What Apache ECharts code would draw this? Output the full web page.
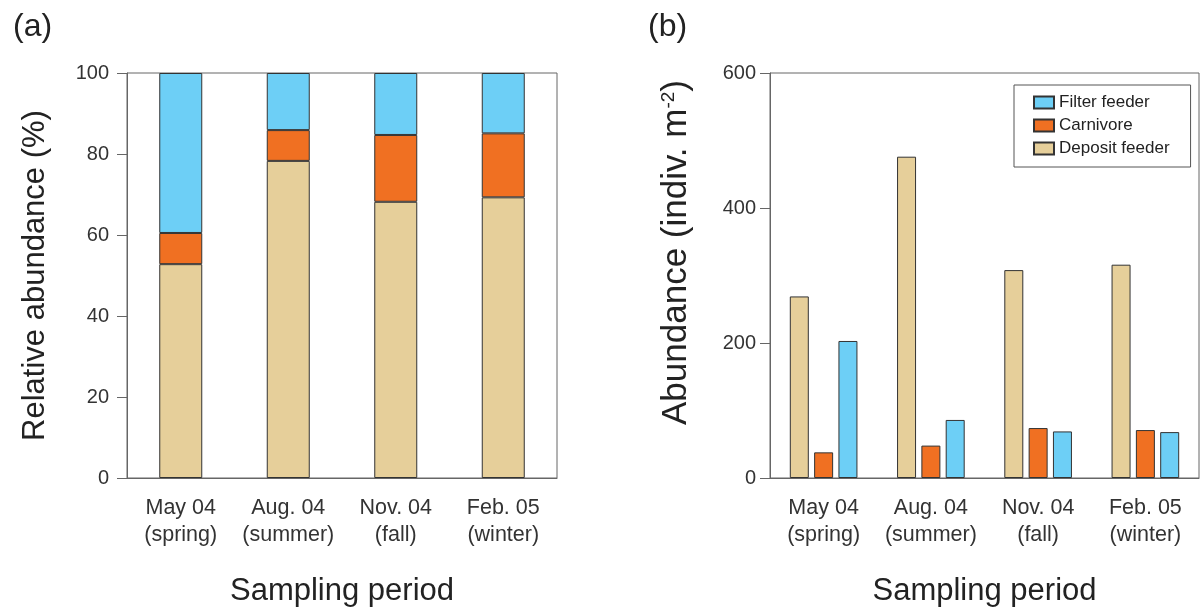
<!DOCTYPE html>
<html>
<head>
<meta charset="utf-8">
<script src="https://cdn.jsdelivr.net/npm/echarts@6/dist/echarts.min.js"></script>
<style>
html,body{margin:0;padding:0;background:#fff;}
#chart{width:1203px;height:612px;}
</style>
</head>
<body>
<div id="chart"></div>
<script>
// ---- data ----
const periods = ['May 04', 'Aug. 04', 'Nov. 04', 'Feb. 05'];
const seasons = ['spring', 'summer', 'fall', 'winter'];
const seriesNames = ['Deposit feeder', 'Carnivore', 'Filter feeder'];
const legendOrder = ['Filter feeder', 'Carnivore', 'Deposit feeder'];
// (a) relative abundance (%)
const relDeposit = [52.8, 78.3, 68.2, 69.3];
const relCarnivore = [7.7, 7.6, 16.5, 15.8];
const relFilter = [39.5, 14.1, 15.3, 14.9];
// (b) abundance (indiv. m-2)
const absDeposit = [269, 476, 308, 316];
const absCarnivore = [38, 48, 74, 71];
const absFilter = [203, 86, 69, 68];
const relTicks = [0, 20, 40, 60, 80, 100];
const absTicks = [0, 200, 400, 600];

const colors = {'Deposit feeder': '#E6CF9A', 'Carnivore': '#F07022', 'Filter feeder': '#6DCFF6'};
const FONT = '"Liberation Sans", Arial, sans-serif';
const categories = periods.map((p, i) => p + '\n(' + seasons[i] + ')');

const chart = echarts.init(document.getElementById('chart'), null, {renderer: 'canvas'});

function xAxis(gridIndex) {
  return {
    type: 'category', gridIndex, data: categories,
    axisLine: {lineStyle: {color: '#666', width: 1}},
    axisTick: {alignWithLabel: true, length: 9, lineStyle: {color: '#666'}},
    axisLabel: {interval: 0, color: '#333', fontSize: 21.5, fontFamily: FONT, lineHeight: 27, margin: 17},
    name: 'Sampling period', nameLocation: 'middle', nameGap: 98,
    nameTextStyle: {color: '#222', fontSize: 31, fontFamily: FONT}
  };
}
function yAxis(gridIndex, ticks, name, nameStyle, labelMargin) {
  return {
    type: 'value', gridIndex, min: ticks[0], max: ticks[ticks.length - 1],
    interval: ticks[1] - ticks[0],
    splitLine: {show: false},
    axisLine: {show: true, lineStyle: {color: '#666', width: 1}},
    axisTick: {show: true, length: 10, lineStyle: {color: '#666'}},
    axisLabel: {color: '#333', fontSize: 20, fontFamily: FONT, margin: labelMargin},
    name, nameLocation: 'middle', nameGap: 76,
    nameTextStyle: Object.assign({color: '#222', fontSize: 31, fontFamily: FONT}, nameStyle)
  };
}

const relData = {'Deposit feeder': relDeposit, 'Carnivore': relCarnivore, 'Filter feeder': relFilter};
const absData = {'Deposit feeder': absDeposit, 'Carnivore': absCarnivore, 'Filter feeder': absFilter};

const series = [];
seriesNames.forEach(n => {
  series.push({
    name: n, type: 'bar', xAxisIndex: 0, yAxisIndex: 0, stack: 'rel', barWidth: 43,
    data: relData[n],
    itemStyle: {color: colors[n], borderColor: '#333', borderWidth: 1}
  });
});
seriesNames.forEach(n => {
  series.push({
    name: n, type: 'bar', xAxisIndex: 1, yAxisIndex: 1, barWidth: 19, barGap: '28%',
    data: absData[n],
    itemStyle: {color: colors[n], borderColor: '#333', borderWidth: 1}
  });
});

chart.setOption({
  animation: false,
  backgroundColor: '#fff',
  title: [
    {text: '(a)', left: 8, top: 6, textStyle: {fontSize: 32, fontWeight: 'normal', color: '#222', fontFamily: FONT}},
    {text: '(b)', left: 643, top: 6, textStyle: {fontSize: 32, fontWeight: 'normal', color: '#222', fontFamily: FONT}}
  ],
  grid: [
    {left: 127, right: 646, top: 73, bottom: 132, show: true, borderColor: '#666', borderWidth: 1},
    {left: 770, right: 4, top: 73, bottom: 132, show: true, borderColor: '#666', borderWidth: 1}
  ],
  legend: {
    data: legendOrder, orient: 'vertical', left: 1014, top: 85,
    icon: 'rect',
    itemWidth: 20, itemHeight: 12, itemGap: 6,
    padding: [9, 21, 10, 19],
    borderColor: '#555', borderWidth: 1,
    textStyle: {fontSize: 17, color: '#222', fontFamily: FONT},
    selectedMode: false
  },
  xAxis: [xAxis(0), xAxis(1)],
  yAxis: [
    yAxis(0, relTicks, 'Relative abundance (%)', {}, 18),
    yAxis(1, absTicks, '{n|Abundance (indiv. m}{s|-2}{n|)}', {
      padding: [0, 0, 0, 46],
      rich: {
        n: {fontSize: 35, fontFamily: FONT, color: '#222'},
        s: {fontSize: 19, fontFamily: FONT, color: '#222', padding: [0, 0, 15, 0]}
      }
    }, 14)
  ],
  series
});
</script>
</body>
</html>
